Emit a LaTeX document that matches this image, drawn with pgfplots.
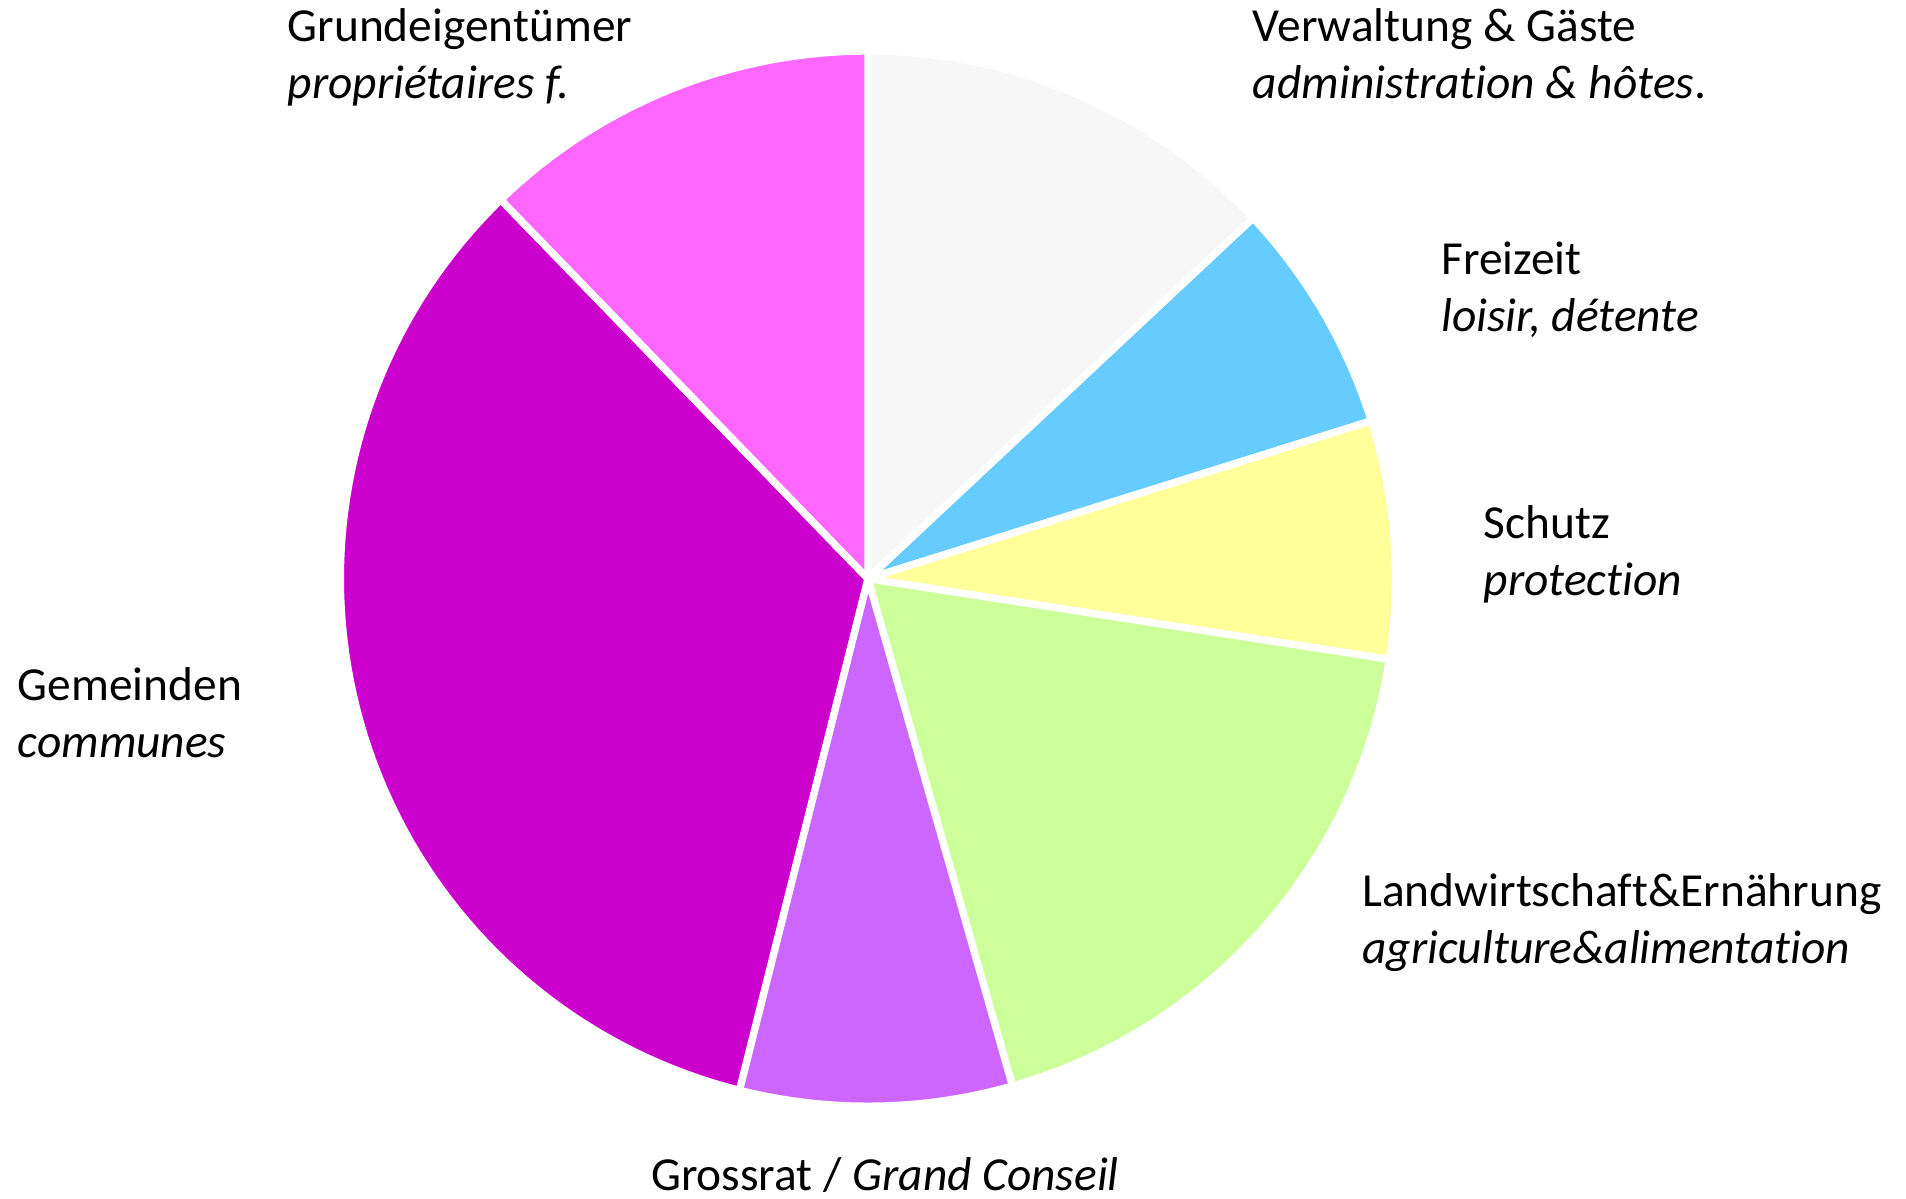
\documentclass[border=0pt]{standalone}
\usepackage{pgfplots}
\pgfplotsset{compat=1.18}
\usepackage{fontspec}
\setmainfont{Carlito}[Ligatures=NoCommon]
\definecolor{cGrund}{HTML}{FF66FF}
\definecolor{cVerw}{HTML}{F7F7F7}
\definecolor{cFrei}{HTML}{66CCFF}
\definecolor{cSchutz}{HTML}{FFFF99}
\definecolor{cLand}{HTML}{CCFF99}
\definecolor{cGross}{HTML}{CC66FF}
\definecolor{cGem}{HTML}{CC00CC}
\begin{document}
\begin{tikzpicture}
\begin{axis}[
  width=15.68cm, height=9.86cm, scale only axis,
  xmin=0, xmax=1568, ymin=0, ymax=986,
  hide axis, clip=false,
]
\path (axis cs:0,0) rectangle (axis cs:1568,986);
% slices: start angle, end angle (degrees), radius 434, centre (714,510)
\pgfplotsset{slice/.style={draw=white, line width=1.7pt, line join=round, samples=80, variable=\t}}
\addplot[slice, fill=cVerw,   domain=43.1:90]      ({714+434*cos(t)},{510+434*sin(t)}) -- (axis cs:714,510) -- cycle;
\addplot[slice, fill=cFrei,   domain=17.4:43.1]    ({714+434*cos(t)},{510+434*sin(t)}) -- (axis cs:714,510) -- cycle;
\addplot[slice, fill=cSchutz, domain=-8.8:17.4]    ({714+434*cos(t)},{510+434*sin(t)}) -- (axis cs:714,510) -- cycle;
\addplot[slice, fill=cLand,   domain=-74.1:-8.8]   ({714+434*cos(t)},{510+434*sin(t)}) -- (axis cs:714,510) -- cycle;
\addplot[slice, fill=cGross,  domain=-104.1:-74.1] ({714+434*cos(t)},{510+434*sin(t)}) -- (axis cs:714,510) -- cycle;
\addplot[slice, fill=cGem,    domain=-225.9:-104.1]({714+434*cos(t)},{510+434*sin(t)}) -- (axis cs:714,510) -- cycle;
\addplot[slice, fill=cGrund,  domain=90:134.1]     ({714+434*cos(t)},{510+434*sin(t)}) -- (axis cs:714,510) -- cycle;
% labels (anchor = baseline of the last line)
\tikzset{lab/.style={anchor=base west, align=left, inner sep=0pt, font=\fontsize{11.1}{13.4}\selectfont}}
\node[lab] at (axis cs:236,905) {Grundeigentümer\\\textit{propriétaires f.}};
\node[lab] at (axis cs:1030,905) {Verwaltung \& Gäste\\\textit{administration \& hôtes}.};
\node[lab] at (axis cs:1185,713) {Freizeit\\\textit{loisir, détente}};
\node[lab] at (axis cs:1220,496) {Schutz\\\textit{protection}};
\node[lab] at (axis cs:14,363) {Gemeinden\\\textit{communes}};
\node[lab] at (axis cs:1120,193) {Landwirtschaft\&Ernährung\\\textit{agriculture\&alimentation}};
\node[lab] at (axis cs:535,7) {Grossrat / \textit{Grand Conseil}};
\end{axis}
\end{tikzpicture}
\end{document}
